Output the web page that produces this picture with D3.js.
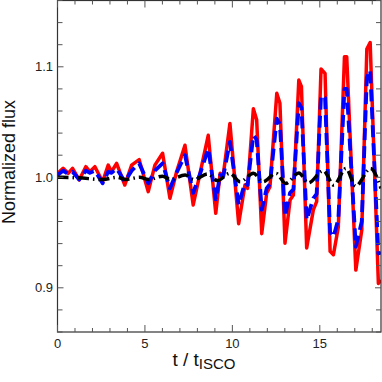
<!DOCTYPE html>
<html>
<head>
<meta charset="utf-8">
<script src="https://cdn.jsdelivr.net/npm/d3@7"></script>
<style>
  html, body { margin: 0; padding: 0; background: #fff; }
  svg { display: block; font-family: "Liberation Sans", Arial, sans-serif; }
</style>
</head>
<body>
<svg id="chart" width="382" height="382"></svg>
<script>
const tKnots = [0.00, 0.32, 0.61, 0.86, 1.24, 1.62, 1.85, 2.14, 2.58, 2.90, 3.09, 3.38, 3.85, 4.24, 4.67,
  5.19, 5.57, 6.01, 6.43, 6.81, 7.29, 7.76, 8.15, 8.62, 9.05, 9.30, 9.48, 9.86, 10.36, 10.72, 10.87,
  11.20, 11.39, 11.68, 11.96, 12.15, 12.54, 12.72, 13.01, 13.30, 13.49, 13.80, 13.95, 14.25, 14.63, 14.82,
  15.07, 15.30, 15.59, 15.78, 16.06, 16.41, 16.54, 17.06, 17.40, 17.69, 17.88, 18.35, 18.50];

const redFlux = [1.0036, 1.0081, 1.0036, 1.0081, 0.9976, 1.0096, 1.0050, 1.0096, 0.9960, 1.0110, 1.0050, 1.0126, 0.9930, 1.0110, 1.0160,
  0.9870, 1.0110, 1.0217, 0.9810, 1.0050, 1.0290, 0.9750, 1.0036, 1.0380, 0.9675, 1.0036, 1.0020, 1.0487, 0.9580, 0.9930, 0.9900,
  1.0620, 1.0520, 0.9490, 0.9856, 0.9915, 1.0760, 1.0670, 0.9404, 0.9795, 0.9840, 1.0880, 1.0820, 0.9360, 0.9705, 0.9780,
  1.0980, 1.0940, 0.9330, 0.9300, 0.9550, 1.1090, 1.1090, 0.9160, 0.9520, 1.1160, 1.1220, 0.9040, 0.9070];

const blueFlux = [1.0020, 1.0060, 1.0030, 1.0050, 0.9980, 1.0060, 1.0040, 1.0060, 0.9946, 1.0050, 1.0040, 1.0080, 0.9960, 1.0060, 1.0126,
  0.9946, 1.0060, 1.0126, 0.9900, 1.0040, 1.0200, 0.9860, 1.0030, 1.0260, 0.9800, 1.0020, 1.0010, 1.0320, 0.9750, 0.9950, 0.9930,
  1.0380, 1.0340, 0.9705, 0.9900, 0.9940, 1.0530, 1.0480, 0.9645, 0.9860, 0.9890, 1.0670, 1.0630, 0.9615, 0.9810, 0.9850,
  1.0740, 1.0720, 0.9500, 0.9460, 0.9620, 1.0800, 1.0800, 0.9370, 0.9600, 1.0900, 1.0970, 0.9310, 0.9320];

const tBlack = [0.0, 1.2, 2.6, 3.4, 3.9, 4.7, 5.2, 6.0, 6.45, 7.3, 7.8, 8.6, 9.15, 9.85, 10.45, 11.2, 11.75,
  12.5, 13.05, 13.8, 14.35, 15.2, 15.8, 16.5, 17.05, 17.9, 18.5];
const blackFlux = [1.0000, 0.9995, 0.9980, 1.0000, 0.9980, 1.0000, 0.9980, 1.0010, 0.9980, 1.0020, 0.9980, 1.0030, 0.9970, 1.0036, 0.9960, 1.0036, 0.9960,
  1.0036, 0.9945, 1.0040, 0.9950, 1.0060, 0.9930, 1.0080, 0.9920, 1.0080, 0.9900];

const xMajor = [0, 5, 10, 15];
const yMajor = [0.9, 1.0, 1.1];

const m = { left: 57.5, right: 381, top: 0.5, bottom: 332 };

const svg = d3.select("#chart");
const x = d3.scaleLinear().domain([0, 18.5]).range([m.left, m.right]);
const y = d3.scaleLinear().domain([0.86, 1.16]).range([m.bottom, m.top]);

svg.append("clipPath").attr("id", "clip").append("rect")
  .attr("x", m.left).attr("y", m.top).attr("width", m.right - m.left).attr("height", m.bottom - m.top);

const line = d3.line().x(d => x(d[0])).y(d => y(d[1]));
const smooth = d3.line().curve(d3.curveMonotoneX).x(d => x(d[0])).y(d => y(d[1]));

const series = [
  { pts: d3.zip(tKnots, redFlux), color: "#ff0000", width: 3.5, dash: null, gen: line },
  { pts: d3.zip(tKnots, blueFlux), color: "#0000ff", width: 3.8, dash: "12,6", gen: line },
  { pts: d3.zip(tBlack, blackFlux), color: "#000000", width: 3.5, dash: "11,4,1.5,4", gen: smooth }
];

svg.append("g").attr("clip-path", "url(#clip)")
  .selectAll("path").data(series).enter().append("path")
  .attr("d", s => s.gen(s.pts))
  .attr("fill", "none")
  .attr("stroke", s => s.color)
  .attr("stroke-width", s => s.width)
  .attr("stroke-linejoin", "round")
  .attr("stroke-dasharray", s => s.dash);

// frame
svg.append("rect")
  .attr("x", m.left).attr("y", m.top).attr("width", m.right - m.left).attr("height", m.bottom - m.top)
  .attr("fill", "none").attr("stroke", "#333").attr("stroke-width", 1.2);

// ticks, pointing inwards on all four sides
const xTicks = d3.range(0, 19, 1);
const yTicks = d3.range(0.86, 1.161, 0.02).map(v => +v.toFixed(2));
const tk = svg.append("g").attr("stroke", "#555").attr("stroke-width", 1);
xTicks.forEach(v => {
  const len = v % 5 === 0 ? 7 : 4;
  tk.append("line").attr("x1", x(v)).attr("x2", x(v)).attr("y1", m.bottom).attr("y2", m.bottom - len);
  tk.append("line").attr("x1", x(v)).attr("x2", x(v)).attr("y1", m.top).attr("y2", m.top + len);
});
yTicks.forEach(v => {
  const len = yMajor.some(t => Math.abs(t - v) < 1e-6) ? 6 : 5;
  tk.append("line").attr("y1", y(v)).attr("y2", y(v)).attr("x1", m.left).attr("x2", m.left + len);
  tk.append("line").attr("y1", y(v)).attr("y2", y(v)).attr("x1", m.right).attr("x2", m.right - len);
});

svg.append("g").selectAll("text").data(xMajor).enter().append("text")
  .attr("x", d => x(d)).attr("y", 348).attr("text-anchor", "middle")
  .attr("font-size", 13).attr("fill", "#222").text(d => d);

svg.append("g").selectAll("text").data(yMajor).enter().append("text")
  .attr("x", 53).attr("y", d => y(d) + 4.5).attr("text-anchor", "end")
  .attr("font-size", 13).attr("fill", "#222").text(d => d.toFixed(1));

svg.append("text")
  .attr("transform", "translate(15,162) rotate(-90)")
  .attr("text-anchor", "middle").attr("font-size", 18).attr("fill", "#111")
  .text("Normalized flux");

const xt = svg.append("text")
  .attr("x", 204).attr("y", 366).attr("text-anchor", "middle")
  .attr("font-size", 19).attr("fill", "#111");
xt.append("tspan").text("t / t");
xt.append("tspan").attr("font-size", 15).attr("dy", 3).text("ISCO");
</script>
</body>
</html>
